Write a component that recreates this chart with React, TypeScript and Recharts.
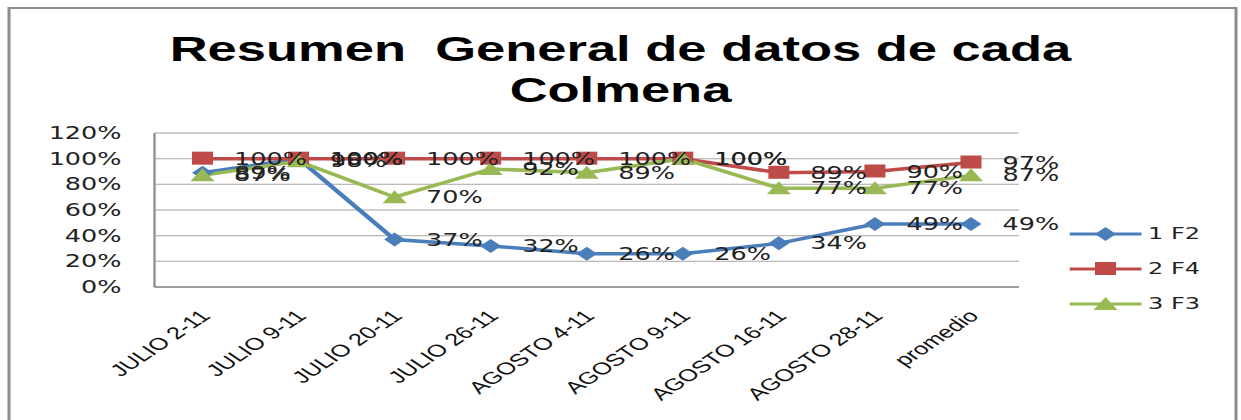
import {
  CartesianGrid,
  LabelList,
  Line,
  LineChart,
  XAxis,
  YAxis,
} from "recharts";

const categories = [
  "JULIO 2-11",
  "JULIO 9-11",
  "JULIO 20-11",
  "JULIO 26-11",
  "AGOSTO 4-11",
  "AGOSTO 9-11",
  "AGOSTO 16-11",
  "AGOSTO 28-11",
  "promedio",
];

const f2Values = [0.89, 1.0, 0.37, 0.32, 0.26, 0.26, 0.34, 0.49, 0.49];
const f4Values = [1.0, 1.0, 1.0, 1.0, 1.0, 1.0, 0.89, 0.9, 0.97];
const f3Values = [0.87, 0.98, 0.7, 0.92, 0.89, 1.0, 0.77, 0.77, 0.87];

const yTicks = [0, 0.2, 0.4, 0.6, 0.8, 1.0, 1.2];

const series = [
  { key: "f2", name: "1 F2", color: "#4A7EBB", shape: "diamond" },
  { key: "f4", name: "2 F4", color: "#BE4B48", shape: "square" },
  { key: "f3", name: "3 F3", color: "#98B954", shape: "triangle" },
];

const data = categories.map((cat, i) => ({
  cat,
  f2: f2Values[i],
  f4: f4Values[i],
  f3: f3Values[i],
}));

// the original picture is stretched sideways, so draw narrow and scale x
const STRETCH = 1.5;
const W = 1241 / STRETCH;
const H = 420;

const pct = (v: number) => `${Math.round(v * 100)}%`;

const Marker = ({ cx, cy, shape, color }: any) => {
  if (cx == null || cy == null) return null;
  if (shape === "square") {
    return <rect x={cx - 7} y={cy - 7} width={14} height={13} fill={color} />;
  }
  if (shape === "triangle") {
    return (
      <polygon
        points={`${cx},${cy - 7} ${cx + 8},${cy + 6} ${cx - 8},${cy + 6}`}
        fill={color}
      />
    );
  }
  return (
    <polygon
      points={`${cx},${cy - 7} ${cx + 7},${cy} ${cx},${cy + 7} ${cx - 7},${cy}`}
      fill={color}
    />
  );
};

const XTick = ({ x, y, payload }: any) => {
  const tx = x + 6;
  const ty = y + 22;
  return (
    <text
      x={tx}
      y={ty}
      transform={`rotate(-45, ${tx}, ${ty})`}
      textAnchor="end"
      fontFamily="Liberation Sans"
      fontSize={17}
      fill="#111"
    >
      {payload.value}
    </text>
  );
};

const LegendBox = () => (
  <div style={{ position: "absolute", left: 1070 / STRETCH, top: 216 }}>
    {series.map((s) => (
      <div
        key={s.key}
        style={{ display: "flex", alignItems: "center", height: 35 }}
      >
        <svg width={50} height={20}>
          <line x1={0} y1={10} x2={48} y2={10} stroke={s.color} strokeWidth={3} />
          <Marker cx={24} cy={10} shape={s.shape} color={s.color} />
        </svg>
        <span
          style={{
            fontFamily: "DejaVu Sans",
            fontSize: 16,
            color: "#222",
            marginLeft: 2,
          }}
        >
          {s.name}
        </span>
      </div>
    ))}
  </div>
);

export default function App() {
  return (
    <div
      style={{
        position: "absolute",
        left: 0,
        top: 0,
        width: W,
        height: H,
        background: "#fff",
        overflow: "hidden",
        transform: `scaleX(${STRETCH})`,
        transformOrigin: "0 0",
      }}
    >
      <div
        style={{
          position: "absolute",
          left: 8 / STRETCH,
          top: 7,
          width: (1237 - 8) / STRETCH,
          height: H + 10,
          border: "2px solid #8c8c8c",
          boxSizing: "border-box",
        }}
      />
      <div
        style={{
          position: "absolute",
          left: 0,
          top: 28,
          width: W,
          textAlign: "center",
          fontFamily: "Liberation Sans",
          fontWeight: "bold",
          fontSize: 35,
          lineHeight: "41px",
          color: "#000",
        }}
      >
        Resumen&nbsp; General de datos de cada
        <br />
        Colmena
      </div>
      <div style={{ position: "absolute", left: 0, top: 0 }}>
        <LineChart
          width={W}
          height={H}
          data={data}
          margin={{ top: 133, right: W - 1019 / STRETCH, left: 0, bottom: 0 }}
        >
          <CartesianGrid vertical={false} stroke="#a6a6a6" strokeWidth={1} />
          <XAxis
            dataKey="cat"
            interval={0}
            height={133}
            padding={{ left: 32, right: 32 }}
            axisLine={{ stroke: "#8c8c8c", strokeWidth: 1.5 }}
            tickLine={false}
            tick={<XTick />}
          />
          <YAxis
            width={103}
            domain={[0, 1.2]}
            ticks={yTicks}
            tickFormatter={pct}
            axisLine={{ stroke: "#8c8c8c", strokeWidth: 1.5 }}
            tickLine={false}
            tickSize={0}
            tickMargin={22}
            tick={{ fontFamily: "DejaVu Sans", fontSize: 17, fill: "#222" }}
          />
          {series.map((s) => (
            <Line
              key={s.key}
              dataKey={s.key}
              name={s.name}
              stroke={s.color}
              strokeWidth={3.5}
              isAnimationActive={false}
              dot={(p: any) => (
                <Marker key={`${s.key}-${p.index}`} cx={p.cx} cy={p.cy} shape={s.shape} color={s.color} />
              )}
              activeDot={false}
            >
              <LabelList
                dataKey={s.key}
                position="right"
                offset={21}
                formatter={(v: any) => pct(Number(v))}
                style={{ fontFamily: "DejaVu Sans", fontSize: 17, fill: "#222" }}
              />
            </Line>
          ))}
        </LineChart>
      </div>
      <LegendBox />
    </div>
  );
}
